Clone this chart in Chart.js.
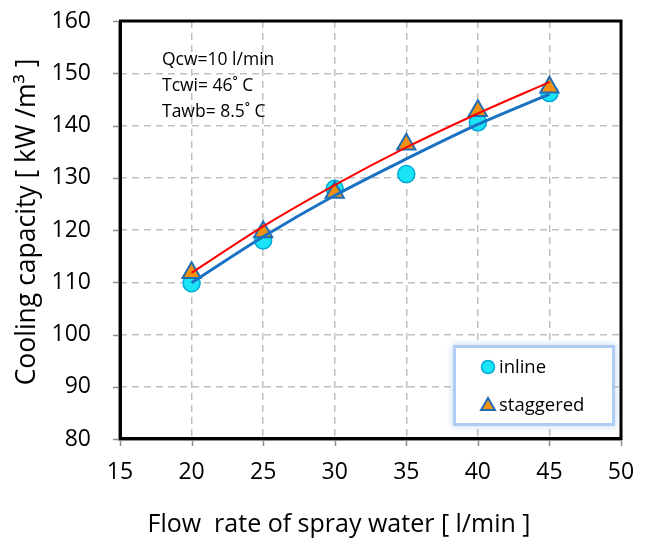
<!DOCTYPE html>
<html>
<head>
<meta charset="utf-8">
<title>Cooling capacity vs flow rate of spray water</title>
<script src="https://cdn.jsdelivr.net/npm/chart.js@4.4.0/dist/chart.umd.min.js"></script>
<style>
  html, body { margin: 0; padding: 0; background: #fff; }
  #wrap { width: 647px; height: 543px; }
</style>
</head>
<body>
<div id="wrap"><canvas id="chart" width="647" height="543"></canvas></div>
<script>
// flow rate of spray water [l/min]
const flowRates = [20, 25, 30, 35, 40, 45];
// measured cooling capacity [kW/m3]
const inlineValues = [109.8, 118.0, 127.9, 130.7, 140.6, 146.2];
const staggeredValues = [111.8, 119.6, 127.2, 136.4, 142.8, 147.3];
// trend curves at the same flow rates
const inlineTrend = [109.9, 118.7, 126.6, 133.6, 140.2, 146.0];
const staggeredTrend = [111.8, 120.7, 128.6, 135.8, 142.3, 148.3];
// axis ticks
const xTicks = [15, 20, 25, 30, 35, 40, 45, 50];
const yTicks = [80, 90, 100, 110, 120, 130, 140, 150, 160];
// texts
const notes = ['Qcw=10 l/min', 'Tcwi= 46˚ C', 'Tawb= 8.5˚ C'];
const legendLabels = ['inline', 'staggered'];
const xTitle = 'Flow  rate of spray water [ l/min ]';
const yTitle = 'Cooling capacity [ kW /m³ ]';

const FONT = '"Open Sans", "DejaVu Sans", sans-serif';
const CIRCLE_FILL = '#1be4f6', CIRCLE_EDGE = '#00a9da';
const TRI_FILL = '#f39110', TRI_EDGE = '#1f6db5';
const TICK_MARK = 7;

Chart.defaults.font.family = FONT;
Chart.defaults.color = '#000';

function pts(ys) {
    return flowRates.map((x, i) => ({ x: x, y: ys[i] }));
}

function drawTriangle(ctx, x, y, r) {
    ctx.beginPath();
    ctx.moveTo(x, y - r);
    ctx.lineTo(x + r * Math.sin(Math.PI / 3), y + r / 2);
    ctx.lineTo(x - r * Math.sin(Math.PI / 3), y + r / 2);
    ctx.closePath();
}

const decorations = {
    id: 'decorations',
    afterDatasetsDraw(chart) {
        const ctx = chart.ctx;
        const a = chart.chartArea;
        const xs = chart.scales.x, ys = chart.scales.y;
        ctx.save();

        // short outward tick marks
        ctx.strokeStyle = '#8c8c8c';
        ctx.lineWidth = 1.5;
        ctx.beginPath();
        yTicks.forEach(v => {
            const y = Math.round(ys.getPixelForValue(v)) + 0.5;
            ctx.moveTo(a.left - TICK_MARK, y);
            ctx.lineTo(a.left, y);
        });
        xTicks.forEach(v => {
            const x = Math.round(xs.getPixelForValue(v)) + 0.5;
            ctx.moveTo(x, a.bottom);
            ctx.lineTo(x, a.bottom + TICK_MARK);
        });
        ctx.stroke();

        // plot frame
        ctx.lineWidth = 1;
        ctx.beginPath();
        ctx.moveTo(a.left - 1.5, a.top);
        ctx.lineTo(a.left - 1.5, a.bottom + 1.5);
        ctx.lineTo(a.right, a.bottom + 1.5);
        ctx.stroke();
        ctx.strokeStyle = '#000';
        ctx.lineWidth = 3;
        ctx.strokeRect(a.left + 0.5, a.top, a.right - a.left - 0.5, a.bottom - a.top - 0.5);

        // condition notes
        ctx.font = '17.5px ' + FONT;
        ctx.fillStyle = '#000';
        ctx.textAlign = 'left';
        ctx.textBaseline = 'alphabetic';
        notes.forEach((t, i) => ctx.fillText(t, a.left + 42, a.top + 44 + i * 26));

        // legend box
        const bx = 456, by = 348, bw = 156, bh = 75;
        ctx.save();
        ctx.shadowColor = 'rgba(120,170,230,0.7)';
        ctx.shadowBlur = 6;
        ctx.strokeStyle = 'rgba(170,202,242,0.9)';
        ctx.lineWidth = 3;
        ctx.strokeRect(bx - 1.5, by - 1.5, bw + 3, bh + 3);
        ctx.restore();
        ctx.fillStyle = '#fff';
        ctx.fillRect(bx, by, bw, bh);

        ctx.beginPath();
        ctx.arc(bx + 32, by + 19, 6.5, 0, Math.PI * 2);
        ctx.fillStyle = CIRCLE_FILL;
        ctx.fill();
        ctx.lineWidth = 1.5;
        ctx.strokeStyle = CIRCLE_EDGE;
        ctx.stroke();

        drawTriangle(ctx, bx + 32, by + 58, 8);
        ctx.fillStyle = TRI_FILL;
        ctx.fill();
        ctx.lineWidth = 2;
        ctx.strokeStyle = TRI_EDGE;
        ctx.stroke();

        ctx.font = '18.5px ' + FONT;
        ctx.fillStyle = '#000';
        ctx.fillText(legendLabels[0], bx + 43, by + 25);
        ctx.fillText(legendLabels[1], bx + 43, by + 63);

        // axis titles
        ctx.font = '25px ' + FONT;
        ctx.textAlign = 'center';
        ctx.textBaseline = 'middle';
        ctx.fillText(xTitle, 339, 525);
        ctx.translate(27, 222);
        ctx.rotate(-Math.PI / 2);
        ctx.font = '26.5px ' + FONT;
        ctx.fillText(yTitle, 0, 0);

        ctx.restore();
    }
};

new Chart(document.getElementById('chart'), {
    type: 'scatter',
    data: {
        datasets: [
            {
                label: 'inline trend',
                data: pts(inlineTrend),
                showLine: true,
                borderColor: '#1b72c2',
                borderWidth: 3,
                pointRadius: 0,
                cubicInterpolationMode: 'monotone',
                order: 0,
            },
            {
                label: 'staggered trend',
                data: pts(staggeredTrend),
                showLine: true,
                borderColor: '#ff0000',
                borderWidth: 2,
                pointRadius: 0,
                cubicInterpolationMode: 'monotone',
                order: 0,
            },
            {
                label: legendLabels[1],
                data: pts(staggeredValues),
                pointStyle: 'triangle',
                pointRadius: 10.5,
                backgroundColor: TRI_FILL,
                borderColor: TRI_EDGE,
                borderWidth: 2,
                order: 1,
            },
            {
                label: legendLabels[0],
                data: pts(inlineValues),
                pointStyle: 'circle',
                pointRadius: 8.5,
                backgroundColor: CIRCLE_FILL,
                borderColor: CIRCLE_EDGE,
                borderWidth: 1.5,
                order: 2,
            },
        ]
    },
    options: {
        responsive: false,
        animation: false,
        layout: { padding: { left: 0, right: 26, top: 21, bottom: 0 } },
        plugins: {
            legend: { display: false },
            tooltip: { enabled: false },
        },
        scales: {
            x: {
                type: 'linear',
                min: 15,
                max: 50,
                afterBuildTicks: s => { s.ticks = xTicks.map(v => ({ value: v })); },
                afterFit: s => { s.height = 104; },
                ticks: { font: { size: 23 }, padding: 0, maxRotation: 0 },
                grid: {
                    color: '#c0c0c0',
                    lineWidth: 1.5,
                    tickLength: 20,
                    tickColor: 'rgba(0,0,0,0)',
                },
                border: { display: false, dash: [7, 5] },
            },
            y: {
                min: 80,
                max: 160,
                afterBuildTicks: s => { s.ticks = yTicks.map(v => ({ value: v })); },
                afterFit: s => { s.width = 120; },
                ticks: { font: { size: 23 }, padding: 0 },
                grid: {
                    color: '#c0c0c0',
                    lineWidth: 1.5,
                    tickLength: 29,
                    tickColor: 'rgba(0,0,0,0)',
                },
                border: { display: false, dash: [7, 5] },
            }
        }
    },
    plugins: [decorations]
});
</script>
</body>
</html>
